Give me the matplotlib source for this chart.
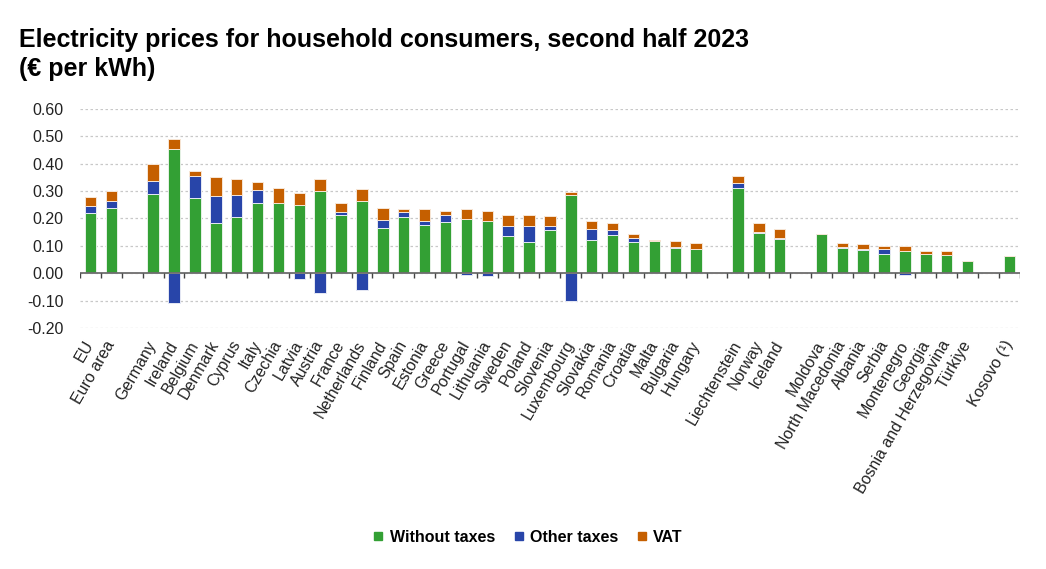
import numpy as np
import matplotlib
matplotlib.use("Agg")
import matplotlib.pyplot as plt
from matplotlib.lines import Line2D

plt.rcParams['font.family'] = ['Liberation Sans', 'DejaVu Sans']

# categories, '' marks an empty slot between groups
countries = ['EU', 'Euro area', '',
             'Germany', 'Ireland', 'Belgium', 'Denmark', 'Cyprus', 'Italy', 'Czechia',
             'Latvia', 'Austria', 'France', 'Netherlands', 'Finland', 'Spain', 'Estonia',
             'Greece', 'Portugal', 'Lithuania', 'Sweden', 'Poland', 'Slovenia',
             'Luxembourg', 'Slovakia', 'Romania', 'Croatia', 'Malta', 'Bulgaria',
             'Hungary', '',
             'Liechtenstein', 'Norway', 'Iceland', '',
             'Moldova', 'North Macedonia', 'Albania', 'Serbia', 'Montenegro', 'Georgia',
             'Bosnia and Herzegovina', 'Türkiye', '',
             'Kosovo (¹)']

without_taxes = [0.221, 0.240, 0,
                 0.288, 0.455, 0.276, 0.183, 0.206, 0.255, 0.255,
                 0.248, 0.299, 0.213, 0.264, 0.167, 0.205, 0.178,
                 0.187, 0.199, 0.190, 0.137, 0.113, 0.159,
                 0.287, 0.121, 0.140, 0.113, 0.117, 0.094,
                 0.087, 0,
                 0.312, 0.148, 0.124, 0,
                 0.143, 0.093, 0.085, 0.070, 0.080, 0.070,
                 0.066, 0.046, 0,
                 0.063]

other_taxes = [0.023, 0.023, 0,
               0.049, -0.110, 0.080, 0.100, 0.081, 0.049, 0.002,
               -0.022, -0.072, 0.010, -0.060, 0.026, 0.018, 0.013,
               0.026, -0.007, -0.011, 0.035, 0.058, 0.013,
               -0.100, 0.039, 0.017, 0.017, 0.001, 0.003,
               0.003, 0,
               0.016, 0.003, 0.003, 0,
               0.0, 0.002, 0.003, 0.018, -0.007, 0.002,
               0.002, 0.0, 0,
               0.0]

vat = [0.036, 0.038, 0,
       0.061, 0.034, 0.018, 0.067, 0.056, 0.028, 0.055,
       0.046, 0.044, 0.032, 0.043, 0.044, 0.010, 0.042,
       0.015, 0.034, 0.038, 0.041, 0.042, 0.038,
       0.011, 0.030, 0.028, 0.014, 0.005, 0.020,
       0.019, 0,
       0.027, 0.031, 0.033, 0,
       0.0, 0.017, 0.017, 0.013, 0.018, 0.011,
       0.015, 0.0, 0,
       0.0]

green = '#33A034'
blue = '#2845A9'
orange = '#C55F00'

wt = np.array(without_taxes)
ot = np.array(other_taxes)
va = np.array(vat)
x = np.arange(len(countries))

fig = plt.figure(figsize=(10.46, 5.69), dpi=100)
ax = fig.add_axes([0.0765, 0.4236, 0.8985, 0.3848])

# stacked bars, other taxes can go below zero
w = 0.55
pos_ot = np.where(ot > 0, ot, 0)
neg_ot = np.where(ot < 0, ot, 0)
ax.bar(x, wt, width=w, color=green, edgecolor='#E6F2E6', linewidth=0.7, zorder=3)
ax.bar(x, pos_ot, width=w, bottom=wt, color=blue, edgecolor='#E6E9F5', linewidth=0.7, zorder=3)
ax.bar(x, neg_ot, width=w, color=blue, edgecolor='#E6E9F5', linewidth=0.7, zorder=3)
ax.bar(x, va, width=w, bottom=wt + pos_ot, color=orange, edgecolor='#F7E6D6', linewidth=0.7, zorder=3)

ax.set_xlim(-0.5, len(countries) - 0.5)
ax.set_ylim(-0.2, 0.6)
yt = np.arange(-0.2, 0.61, 0.1)
ax.set_yticks(yt)
ax.set_yticklabels(['%.2f' % v for v in yt], fontsize=11.5, color='#222222')
ax.yaxis.grid(True, linestyle=(0, (2, 2)), color='#C8C8C8', linewidth=0.9, zorder=0)
ax.tick_params(axis='y', length=0, pad=12)

# zero line with small ticks between the slots
ax.axhline(0, color='#6E6E6E', linewidth=1.3, zorder=4)
ax.vlines(np.arange(len(countries) + 1) - 0.5, -0.018, 0, color='#444444', linewidth=1, zorder=4)

ax.set_xticks(x[[c != '' for c in countries]])
ax.set_xticklabels([c for c in countries if c != ''], rotation=60, ha='right', va='center',
                   rotation_mode='anchor', fontsize=11.5, color='#222222')
ax.tick_params(axis='x', length=0, pad=10)

for s in ax.spines.values():
    s.set_visible(False)

fig.text(0.018, 0.950, 'Electricity prices for household consumers, second half 2023\n(€ per kWh)',
         fontsize=18, fontweight='bold', va='top', ha='left', linespacing=1.25)

handles = [Line2D([], [], marker='s', linestyle='', markersize=6, color=c) for c in (green, blue, orange)]
fig.legend(handles, ['Without taxes', 'Other taxes', 'VAT'], loc='center', bbox_to_anchor=(0.505, 0.056),
           ncol=3, frameon=False, handlelength=0.6, handletextpad=0.4, columnspacing=1.2,
           prop={'weight': 'bold', 'size': 11.5})

fig.savefig('out.png', dpi=100)
